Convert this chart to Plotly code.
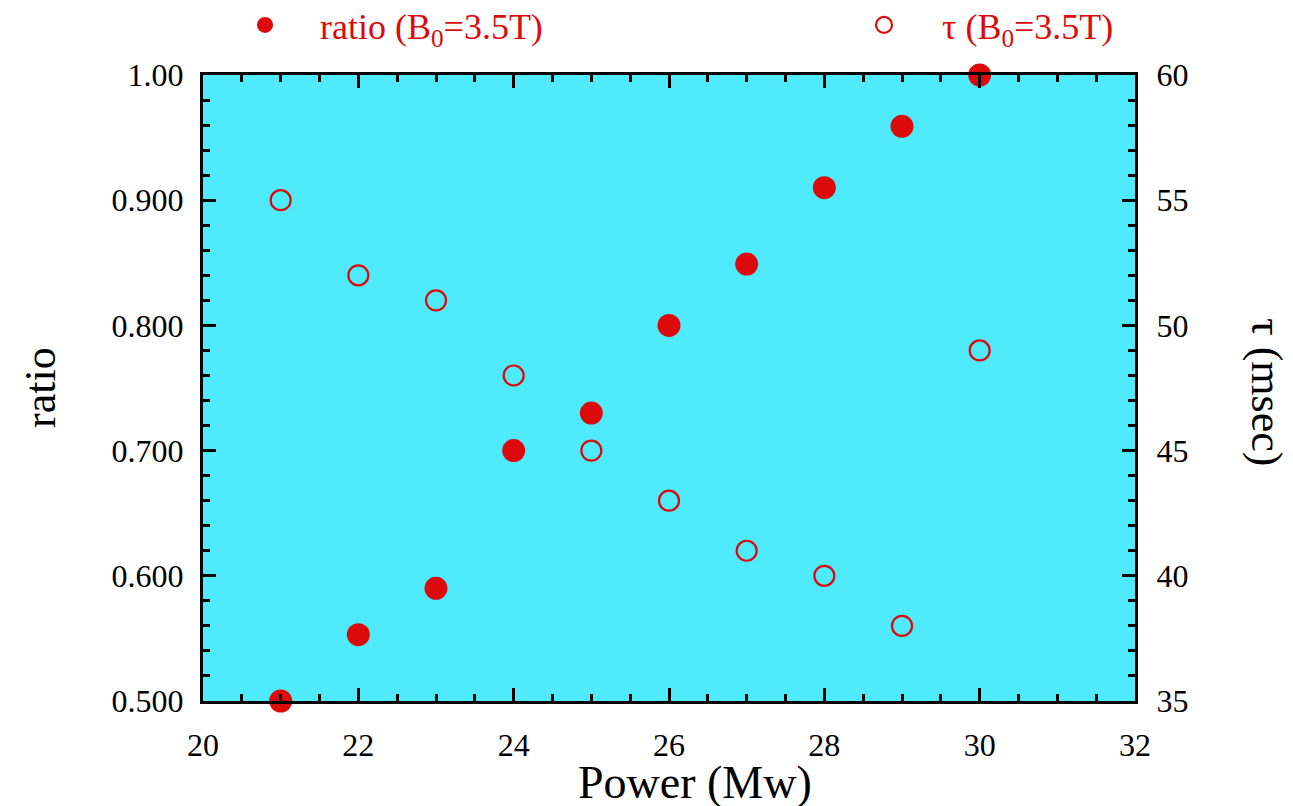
import plotly.graph_objects as go

power = [21, 22, 23, 24, 25, 26, 27, 28, 29, 30]
ratio = [0.500, 0.553, 0.590, 0.700, 0.730, 0.800, 0.849, 0.910, 0.959, 1.000]
tau = [55, 52, 51, 48, 45, 43, 41, 40, 38, 49]

x_ticks = [20, 22, 24, 26, 28, 30, 32]
ratio_ticks = [0.5, 0.6, 0.7, 0.8, 0.9, 1.0]
ratio_labels = ["0.500", "0.600", "0.700", "0.800", "0.900", "1.00"]
tau_ticks = [35, 40, 45, 50, 55, 60]

RED = "#DC0A0A"
FONT = "Liberation Serif"

L, R, T, B = 203, 158, 75, 105
W, H = 1293, 806
PW, PH = W - L - R, H - T - B


def px_to_paper_x(px):
    return (px - L) / PW


def px_to_paper_y(py):
    return (H - B - py) / PH


fig = go.Figure()
fig.add_trace(go.Scatter(
    x=power, y=ratio, mode="markers", name="ratio (B<sub>0</sub>=3.5T)",
    marker=dict(symbol="circle", size=23, color=RED, line=dict(width=0)),
    cliponaxis=False, yaxis="y", legend="legend"))
fig.add_trace(go.Scatter(
    x=power, y=tau, mode="markers", name="τ (B<sub>0</sub>=3.5T)",
    marker=dict(symbol="circle-open", size=20, color=RED, line=dict(width=2.2, color=RED)),
    cliponaxis=False, yaxis="y2", legend="legend2"))

axis_common = dict(showline=True, linecolor="black", linewidth=3, ticks="inside",
                   tickcolor="black", tickwidth=2.5, ticklen=13, showgrid=False,
                   zeroline=False, tickfont=dict(family=FONT, size=32, color="black"))

legend_common = dict(orientation="h", xanchor="left", xref="container",
                     y=1 - 25 / H, yanchor="middle", yref="container",
                     font=dict(family=FONT, size=36, color=RED),
                     bgcolor="rgba(0,0,0,0)", itemsizing="trace")

fig.update_layout(
    width=W, height=H,
    margin=dict(l=L, r=R, t=T, b=B, autoexpand=False),
    paper_bgcolor="white", plot_bgcolor="#4FEBFD",
    font=dict(family=FONT, color="black"),
    xaxis=dict(range=[20, 32], tickvals=x_ticks, mirror="ticks",
               minor=dict(dtick=0.5, ticks="inside", ticklen=7, tickwidth=2.5, tickcolor="black"),
               ticklabelstandoff=14,
               **axis_common),
    yaxis=dict(range=[0.5, 1.0], tickvals=ratio_ticks, ticktext=ratio_labels,
               minor=dict(dtick=0.02, ticks="inside", ticklen=7, tickwidth=2.5, tickcolor="black"),
               ticklabelstandoff=10,
               **axis_common),
    yaxis2=dict(range=[35, 60], tickvals=tau_ticks, overlaying="y", side="right",
                minor=dict(dtick=1, ticks="inside", ticklen=7, tickwidth=2.5, tickcolor="black"),
                ticklabelstandoff=12,
                **axis_common),
    legend=dict(x=210 / W, itemwidth=100, **legend_common),
    legend2=dict(x=826 / W, itemwidth=106, **legend_common),
    showlegend=True,
)

fig.add_annotation(text="Power (Mw)", x=px_to_paper_x(695), y=px_to_paper_y(782),
                   xref="paper", yref="paper", showarrow=False,
                   xanchor="center", yanchor="middle",
                   font=dict(family=FONT, size=46, color="black"))
fig.add_annotation(text="ratio", textangle=-90, x=px_to_paper_x(40), y=px_to_paper_y(388),
                   xref="paper", yref="paper", showarrow=False,
                   xanchor="center", yanchor="middle",
                   font=dict(family=FONT, size=44, color="black"))
fig.add_annotation(text="τ (msec)", textangle=90, x=px_to_paper_x(1267), y=px_to_paper_y(392),
                   xref="paper", yref="paper", showarrow=False,
                   xanchor="center", yanchor="middle",
                   font=dict(family=FONT, size=44, color="black"))

fig.write_html("out.html")
